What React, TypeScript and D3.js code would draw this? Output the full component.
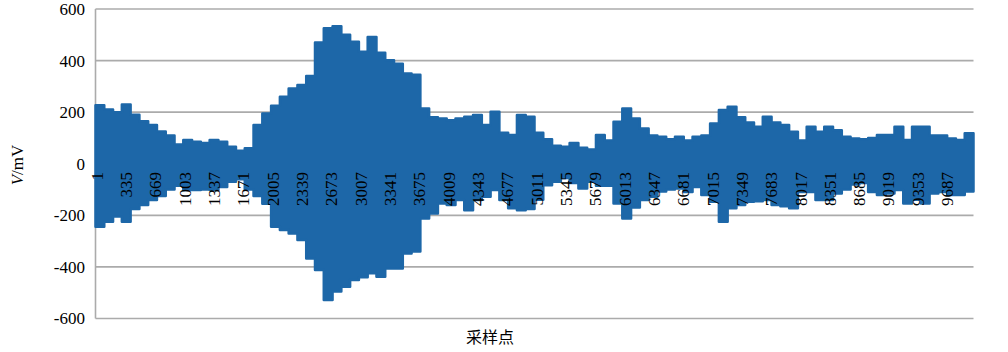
import React from "react";
import * as d3 from "d3";

// Envelope of the waveform: max / min voltage (mV) per block of 100 samples
const upperEnvelope = [
  227, 210, 200, 230, 190, 165, 150, 125, 110, 75,
  92, 85, 80, 92, 85, 66, 50, 60, 150, 195,
  225, 260, 292, 305, 340, 470, 525, 533, 500, 473,
  434, 491, 430, 401, 388, 350, 345, 214, 180, 175,
  169, 175, 182, 189, 150, 202, 120, 111, 189, 182,
  120, 95, 70, 66, 80, 62, 55, 111, 90, 163,
  214, 175, 137, 110, 105, 95, 105, 90, 105, 110,
  156, 208, 221, 180, 160, 143, 182, 160, 150, 124,
  90, 143, 124, 143, 130, 105, 98, 95, 100, 111,
  111, 143, 92, 143, 143, 110, 110, 98, 92, 118,
];
const lowerEnvelope = [
  -244, -225, -205, -225, -175, -160, -141, -125, -100, -85,
  -102, -102, -100, -102, -90, -70, -60, -100, -125, -155,
  -244, -257, -270, -296, -367, -412, -528, -495, -477, -451,
  -440, -425, -438, -406, -406, -348, -340, -212, -193, -154,
  -160, -141, -180, -141, -128, -102, -141, -173, -180, -175,
  -140, -83, -70, -55, -75, -96, -70, -85, -85, -154,
  -212, -170, -141, -128, -108, -100, -96, -110, -90, -121,
  -147, -225, -173, -160, -147, -145, -141, -160, -165, -173,
  -110, -110, -141, -141, -115, -100, -80, -75, -110, -121,
  -115, -102, -154, -140, -154, -115, -110, -121, -121, -108,
];
const blockSize = 100;
const sampleCount = 10000;
const yTicks = [-600, -400, -200, 0, 200, 400, 600];
const xTickLabels = [
  1, 335, 669, 1003, 1337, 1671, 2005, 2339, 2673, 3007, 3341, 3675, 4009,
  4343, 4677, 5011, 5345, 5679, 6013, 6347, 6681, 7015, 7349, 7683, 8017,
  8351, 8685, 9019, 9353, 9687,
];

export default function App() {
  const W = 1008;
  const H = 352;
  const left = 95.5;
  const right = 973.5;
  const top = 9;
  const bottom = 318.5;

  const x = d3.scaleLinear().domain([0, sampleCount]).range([left, right]);
  const y = d3.scaleLinear().domain([-600, 600]).range([bottom, top]);

  const pts = upperEnvelope.map((u, i) => ({
    s: i * blockSize,
    u,
    l: lowerEnvelope[i],
  }));
  const last = pts[pts.length - 1];
  pts.push({ s: sampleCount, u: last.u, l: last.l });

  const area = d3
    .area<{ s: number; u: number; l: number }>()
    .x((d) => x(d.s))
    .y0((d) => y(d.l))
    .y1((d) => y(d.u))
    .curve(d3.curveStepAfter)(pts);

  const blue = "#1d67a8";
  const grid = "#ababab";
  const font = "'Liberation Serif', 'Times New Roman', serif";

  return (
    <svg
      width={W}
      height={H}
      style={{ position: "absolute", left: 0, top: 0, background: "#fff" }}
    >
      {yTicks.map((t) => (
        <line
          key={t}
          x1={left}
          x2={right}
          y1={y(t)}
          y2={y(t)}
          stroke={grid}
          strokeWidth={1.6}
        />
      ))}
      <line x1={left} x2={left} y1={top} y2={bottom} stroke={grid} strokeWidth={1.6} />
      <path
        d={area || ""}
        fill={blue}
        stroke={blue}
        strokeWidth={2.5}
        strokeLinejoin="round"
      />
      {yTicks.map((t) => (
        <text
          key={t}
          x={85}
          y={y(t)}
          dy="0.35em"
          textAnchor="end"
          fontFamily={font}
          fontSize={17}
          fill="#000"
        >
          {t}
        </text>
      ))}
      {xTickLabels.map((c) => {
        const cx = x(c - 0.5) + 1.2;
        return (
          <text
            key={c}
            transform={`translate(${cx},172) rotate(-90)`}
            dy="0.35em"
            textAnchor="end"
            fontFamily={font}
            fontSize={17}
            fill="#000"
          >
            {c}
          </text>
        );
      })}
      <text
        transform="translate(17,165) rotate(-90)"
        dy="0.35em"
        textAnchor="middle"
        fontFamily={font}
        fontSize={17}
        fill="#000"
      >
        <tspan fontStyle="italic">V</tspan>/mV
      </text>
      <text
        x={490}
        y={343}
        textAnchor="middle"
        fontFamily="'Noto Sans CJK SC', sans-serif"
        fontSize={16}
        fill="#000"
      >
        采样点
      </text>
    </svg>
  );
}
